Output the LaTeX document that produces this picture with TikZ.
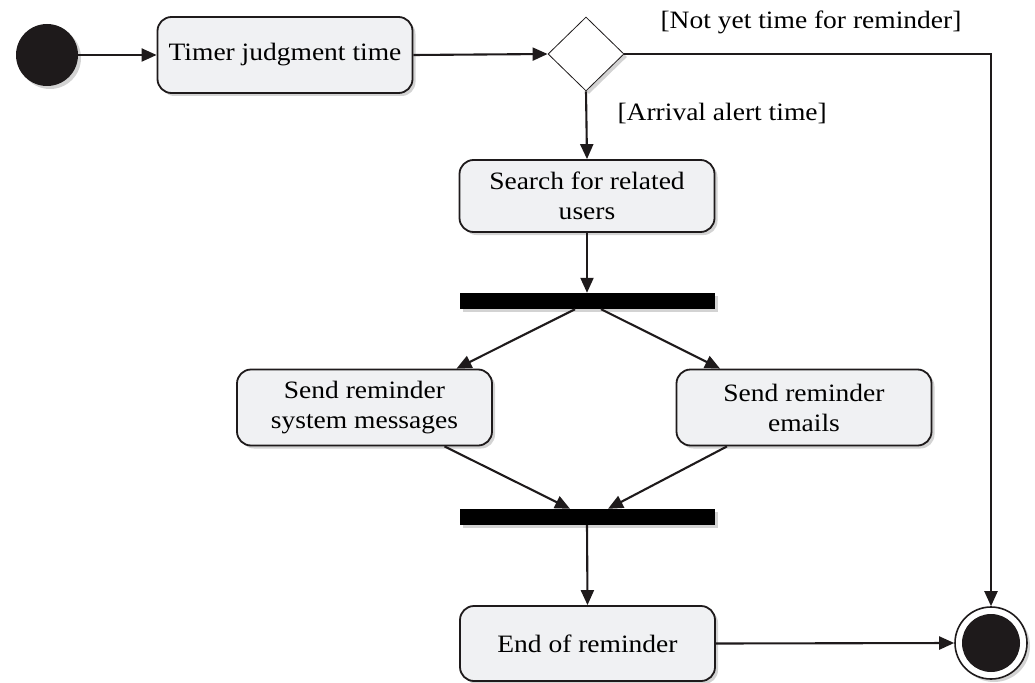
\documentclass[tikz,border=0pt]{standalone}
\usepackage{fontspec}
\setmainfont[FakeStretch=1.1]{Liberation Serif}
\usetikzlibrary{shapes.geometric,arrows.meta,shadows,calc}
\definecolor{actfill}{HTML}{F0F1F3}
\definecolor{ink}{HTML}{1E1A1B}
\begin{document}
\begin{tikzpicture}[x=1pt,y=-1pt,
  shade/.style={drop shadow={opacity=0.35,shadow xshift=3pt,shadow yshift=-3pt}},
  act/.style={draw=ink,line width=1.8pt,rounded corners=14pt,fill=actfill,
    minimum width=255pt,minimum height=76pt,align=center,inner sep=2pt,
    font=\fontsize{25}{30}\selectfont,shade},
  bar/.style={fill=black,draw=none,minimum width=255pt,minimum height=16pt,inner sep=0pt,shade},
  flow/.style={draw=ink,line width=2.1pt,-{Triangle[length=15pt,width=13pt]}},
  guard/.style={font=\fontsize{25}{30}\selectfont}]
\useasboundingbox (0,0) rectangle (1035,682);

% initial node
\node[circle,fill=ink,minimum size=62pt,inner sep=0pt,shade] (start) at (47,55) {};

% actions
\node[act] (timer) at (285,55) {Timer judgment time};
\node[diamond,draw=ink,line width=0.8pt,fill=white,aspect=1,inner sep=0pt,
  minimum width=76pt,minimum height=74pt,shade] (dec) at (586,54) {};
\node[act,minimum height=72pt] (search) at (587,196) {Search for related\\users};
\node[bar] (fork) at (587,301) {};
\node[act] (sendmsg) at (364.5,407.5) {Send reminder\\system messages};
\node[act] (sendmail) at (804,407.5) {Send reminder\\emails};
\node[bar] (join) at (587,517) {};
\node[act,minimum height=75pt] (endact) at (587.5,643.5) {End of reminder};

% final node
\node[circle,draw=ink,line width=1.6pt,fill=white,minimum size=72pt,inner sep=0pt,shade] (final) at (991,643) {};
\fill[ink] (final.center) circle (29);

% flows
\draw[flow] (start.east) -- (timer.west);
\draw[flow] (timer.east) -- (dec.west);
\draw[flow] (dec.east) -- (final.north |- dec.east) -- (final.north);
\node[guard] (notyet) at (811,22) {[Not yet time for reminder]};
\draw[flow] (dec.south) -- (search.north);
\node[guard,anchor=west] (arrival) at (614,113) {[Arrival alert time]};
\draw[flow] (search.south) -- (fork.north);
\draw[flow] ($(fork.south)+(-12,0)$) -- ($(sendmsg.north)+(92,0)$);
\draw[flow] ($(fork.south)+(14,0)$) -- ($(sendmail.north)+(-84,0)$);
\draw[flow] ($(sendmsg.south)+(80,0)$) -- ($(join.north)+(-17,0)$);
\draw[flow] ($(sendmail.south)+(-77,0)$) -- ($(join.north)+(21,0)$);
\draw[flow] (join.south) -- (endact.north);
\draw[flow] (endact.east) -- (final.west);
\end{tikzpicture}
\end{document}
